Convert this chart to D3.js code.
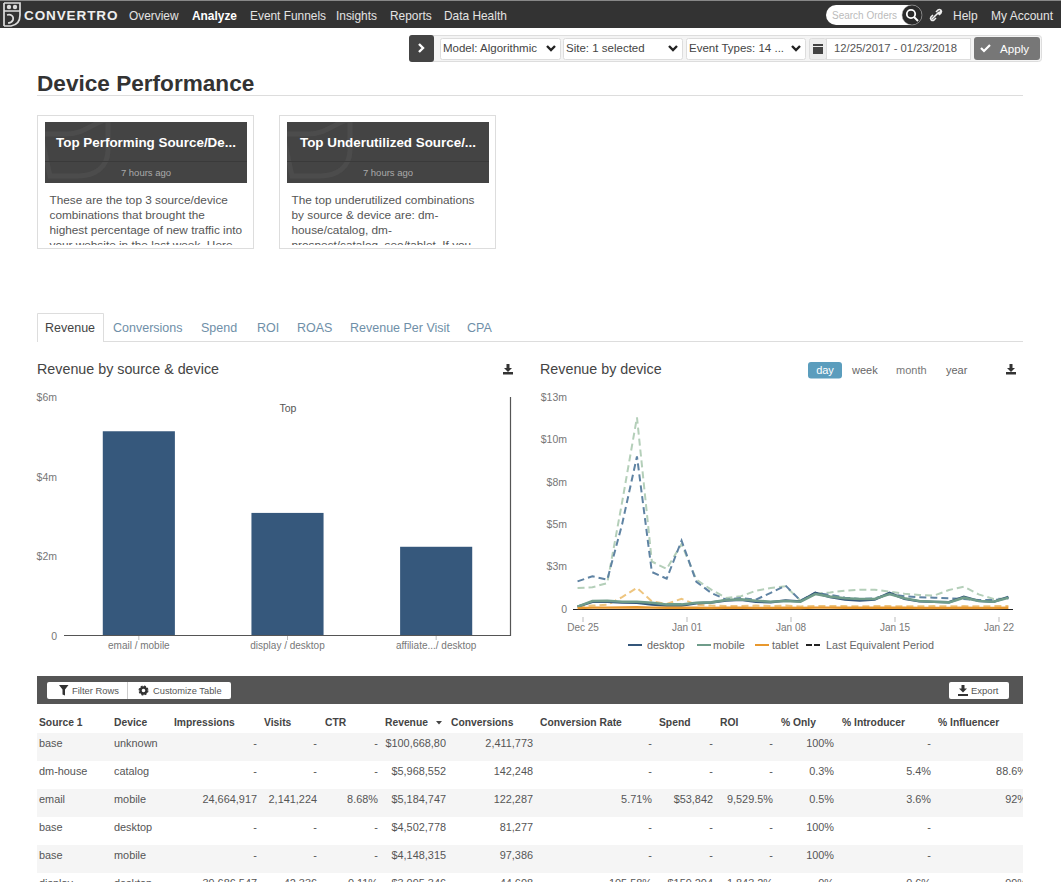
<!DOCTYPE html>
<html>
<head>
<meta charset="utf-8">
<script src="https://cdn.jsdelivr.net/npm/d3@7"></script>
<style>
  html, body { margin: 0; padding: 0; background: #fff; overflow: hidden; }
  svg { display: block; }
  text { font-family: "Liberation Sans", Arial, sans-serif; }
  .axis text { fill: #777; }
  .axis line { stroke: #bbb; }
</style>
</head>
<body>
<div id="page"></div>
<script>
// nav + tabs
var navItems = ["Overview", "Analyze", "Event Funnels", "Insights", "Reports", "Data Health"];
var navX = [129, 192, 250, 336, 390, 444];
var tabNames = ["Revenue", "Conversions", "Spend", "ROI", "ROAS", "Revenue Per Visit", "CPA"];
var tabX = [45, 113, 201, 257, 297, 350, 467];

// bar chart data
var barCategories = ["email / mobile", "display / desktop", "affiliate.../ desktop"];
var barValues = [5140000, 3090000, 2240000];
var barTicks = [0, 2000000, 4000000, 6000000];
var barTickLabels = ["0", "$2m", "$4m", "$6m"];

// line chart data, one value per day in $m, 12/25 - 01/23
var desktop = [0.14, 0.42, 0.42, 0.38, 0.36, 0.26, 0.2, 0.2, 0.34, 0.38, 0.5, 0.54, 0.42, 0.4, 0.5, 0.45, 0.95, 0.7, 0.55, 0.5, 0.55, 0.95, 0.6, 0.45, 0.42, 0.4, 0.72, 0.48, 0.42, 0.72];
var mobile = [0.14, 0.47, 0.49, 0.43, 0.43, 0.37, 0.27, 0.27, 0.37, 0.39, 0.53, 0.57, 0.49, 0.43, 0.47, 0.43, 0.88, 0.73, 0.63, 0.59, 0.59, 0.88, 0.63, 0.47, 0.43, 0.39, 0.67, 0.47, 0.43, 0.67];
var tablet = [0.05, 0.08, 0.08, 0.09, 0.1, 0.08, 0.07, 0.08, 0.07, 0.06, 0.07, 0.07, 0.06, 0.06, 0.07, 0.06, 0.08, 0.08, 0.07, 0.07, 0.07, 0.08, 0.07, 0.06, 0.06, 0.06, 0.07, 0.06, 0.06, 0.07];
var desktopPrev = [1.63, 1.93, 1.73, 5.0, 9.0, 2.18, 1.79, 4.03, 1.6, 0.95, 0.55, 0.65, 0.55, 0.95, 1.38, 0.5, 0.95, 0.83, 0.67, 0.59, 0.63, 0.88, 0.75, 0.69, 0.67, 0.63, 0.59, 0.53, 0.53, 0.63];
var mobilePrev = [1.24, 1.28, 1.53, 6.3, 11.3, 2.8, 2.36, 3.83, 1.73, 1.14, 0.65, 0.75, 1.08, 1.24, 1.34, 0.5, 0.92, 0.98, 1.08, 1.14, 1.14, 1.02, 0.9, 0.83, 0.79, 1.12, 1.32, 0.86, 0.59, 0.63];
var tabletPrev = [0.15, 0.2, 0.25, 0.7, 1.25, 0.45, 0.3, 0.6, 0.25, 0.2, 0.18, 0.18, 0.2, 0.17, 0.2, 0.15, 0.18, 0.17, 0.17, 0.16, 0.17, 0.17, 0.16, 0.16, 0.17, 0.16, 0.17, 0.16, 0.17, 0.18];
var lineTicks = [0, 2.5, 5, 7.5, 10, 12.5];
var lineTickLabels = ["0", "$3m", "$5m", "$8m", "$10m", "$13m"];
var xTickDates = ["2017-12-25", "2018-01-01", "2018-01-08", "2018-01-15", "2018-01-22"];
var legendNames = ["desktop", "mobile", "tablet", "Last Equivalent Period"];

// table data
var tableHeaders = ["Source 1", "Device", "Impressions", "Visits", "CTR", "Revenue", "Conversions", "Conversion Rate", "Spend", "ROI", "% Only", "% Introducer", "% Influencer"];
var sources = ["base", "dm-house", "email", "base", "base", "display"];
var devices = ["unknown", "catalog", "mobile", "desktop", "mobile", "desktop"];
var impressions = ["-", "-", "24,664,917", "-", "-", "39,686,547"];
var visits = ["-", "-", "2,141,224", "-", "-", "42,336"];
var ctr = ["-", "-", "8.68%", "-", "-", "0.11%"];
var revenue = ["$100,668,80", "$5,968,552", "$5,184,747", "$4,502,778", "$4,148,315", "$3,095,346"];
var conversions = ["2,411,773", "142,248", "122,287", "81,277", "97,386", "44,608"];
var convRate = ["-", "-", "5.71%", "-", "-", "105.58%"];
var spend = ["-", "-", "$53,842", "-", "-", "$159,204"];
var roi = ["-", "-", "9,529.5%", "-", "-", "1,843.2%"];
var pctOnly = ["100%", "0.3%", "0.5%", "100%", "100%", "0%"];
var pctIntroducer = ["-", "5.4%", "3.6%", "-", "-", "0.6%"];
var pctInfluencer = ["", "88.6%", "92%", "", "", "99%"];

var svgWidth = 1061;
var svgHeight = 883;

var svg = d3.select("#page")
  .append("svg")
  .attr("width", svgWidth)
  .attr("height", svgHeight);

var defs = svg.append("defs");

function addClip(id, x, y, w, h) {
  defs.append("clipPath").attr("id", id).append("rect")
    .attr("x", x).attr("y", y).attr("width", w).attr("height", h);
}
addClip("card1", 38, 116, 215, 129);
addClip("card2", 280, 116, 215, 129);
addClip("tableClip", 37, 705, 986, 177);
addClip("head1", 45, 122, 202, 61);
addClip("head2", 287, 122, 202, 61);

function label(parent, x, y, str, size, fill, opts) {
  opts = opts || {};
  return parent.append("text")
    .attr("x", x)
    .attr("y", y)
    .attr("font-size", size)
    .attr("fill", fill)
    .attr("font-weight", opts.weight || "normal")
    .attr("text-anchor", opts.anchor || "start")
    .text(str);
}

function box(parent, x, y, w, h, fill, stroke, r) {
  return parent.append("rect")
    .attr("x", x).attr("y", y).attr("width", w).attr("height", h)
    .attr("rx", r || 0)
    .attr("fill", fill)
    .attr("stroke", stroke || "none");
}

function downloadIcon(x, y, color) {
  svg.append("path")
    .attr("d", `M${x - 1.5},${y - 5}h3v4h2.5l-4,4l-4,-4h2.5z M${x - 5},${y + 3}h10v2.5h-10z`)
    .attr("fill", color);
}

function chevron(x, y) {
  svg.append("path")
    .attr("d", `M${x - 4},${y - 2}l4,4l4,-4`)
    .attr("fill", "none")
    .attr("stroke", "#222")
    .attr("stroke-width", 2.4);
}

// top nav
box(svg, 0, 0, svgWidth, 28, "#333");
box(svg, 0, 0, svgWidth, 1, "#888");
// owl logo
svg.append("path")
  .attr("d", "M4,3v23 M4,3h16v12c0,6 -3,10 -9,11h-7 M4,11h16")
  .attr("fill", "none")
  .attr("stroke", "#ddd")
  .attr("stroke-width", 1.7);
svg.append("circle").attr("cx", 9).attr("cy", 7).attr("r", 2.2).attr("fill", "#ddd");
svg.append("circle").attr("cx", 15).attr("cy", 7).attr("r", 2.2).attr("fill", "#ddd");
svg.append("path")
  .attr("d", "M7,15c4,-1 7,1 6,5c-1,2 -3,3 -5,3")
  .attr("fill", "none")
  .attr("stroke", "#ddd")
  .attr("stroke-width", 1.7);
label(svg, 24, 20, "CONVERTRO", 13.5, "#eee", { weight: "bold" }).attr("letter-spacing", 0.9);

svg.selectAll(".nav")
  .data(navItems)
  .enter()
  .append("text")
  .attr("class", "nav")
  .attr("x", (d, i) => navX[i])
  .attr("y", 20)
  .attr("font-size", 11.9)
  .attr("font-weight", d => d === "Analyze" ? "bold" : "normal")
  .attr("fill", d => d === "Analyze" ? "#fff" : "#e4e4e4")
  .text(d => d);

box(svg, 826, 5, 96, 20, "#fff", null, 10);
label(svg, 832, 19, "Search Orders", 10, "#bbb");
svg.append("circle").attr("cx", 912).attr("cy", 15).attr("r", 10).attr("fill", "#2b2b2b").attr("stroke", "#aaa").attr("stroke-width", 0.5);
svg.append("circle").attr("cx", 911).attr("cy", 14).attr("r", 4.2).attr("fill", "none").attr("stroke", "#fff").attr("stroke-width", 1.8);
svg.append("line").attr("x1", 914).attr("y1", 17).attr("x2", 918).attr("y2", 21).attr("stroke", "#fff").attr("stroke-width", 2);
svg.append("path")
  .attr("d", "M932,19l3,-3 M938,14l3,-3 M933,15l-2,2c-1.5,2 1,4.500 3,3l2,-2 M939,15l2,-2c1.500,-2 -1,-4.500 -3,-3l-2,2 M934,17l5,-5")
  .attr("fill", "none").attr("stroke", "#eee").attr("stroke-width", 1.6);
label(svg, 953, 20, "Help", 12, "#e4e4e4");
label(svg, 991, 20, "My Account", 12, "#e4e4e4");

// filter bar
box(svg, 409.5, 35.5, 632, 26, "#f4f4f4", "#ddd", 3);
box(svg, 409, 35, 25, 27, "#444", null, 3);
svg.append("path").attr("d", "M419,44l4,4l-4,4").attr("fill", "none").attr("stroke", "#fff").attr("stroke-width", 2.4);

var selects = [
  { x: 440, w: 121, t: "Model: Algorithmic" },
  { x: 563, w: 120, t: "Site: 1 selected" },
  { x: 686, w: 120, t: "Event Types: 14 ..." }
];
selects.forEach(function(s) {
  box(svg, s.x + 0.5, 38.5, s.w - 1, 21, "#fff", "#ddd", 2);
  label(svg, s.x + 3, 52, s.t, 11.5, "#444");
  chevron(s.x + s.w - 10, 48);
});
box(svg, 809.5, 38.5, 17, 21, "#eee", "#ddd", 2);
box(svg, 813, 44, 10, 10, "#444");
svg.append("line").attr("x1", 813).attr("x2", 823).attr("y1", 46.500).attr("y2", 46.500).attr("stroke", "#eee");
box(svg, 826.5, 38.5, 144, 21, "#fff", "#ddd");
label(svg, 834, 52, "12/25/2017 - 01/23/2018", 11.3, "#555");
box(svg, 974, 37, 66, 23, "#777", null, 3);
svg.append("path").attr("d", "M981,48l3,3l6,-6").attr("fill", "none").attr("stroke", "#fff").attr("stroke-width", 2.2);
label(svg, 1000, 53, "Apply", 11.6, "#fff");

// page title
label(svg, 37, 91, "Device Performance", 22.6, "#333", { weight: "bold" });
svg.append("line").attr("x1", 37).attr("x2", 1023).attr("y1", 95.5).attr("y2", 95.5).attr("stroke", "#ddd");

// insight cards
var cards = [
  { x: 37, w: 217, inner: 45, clip: "card1", head: "head1", title: "Top Performing Source/De...",
    lines: ["These are the top 3 source/device", "combinations that brought the", "highest percentage of new traffic into", "your website in the last week. Here"] },
  { x: 279, w: 217, inner: 287, clip: "card2", head: "head2", title: "Top Underutilized Source/...",
    lines: ["The top underutilized combinations", "by source & device are: dm-", "house/catalog, dm-", "prospect/catalog, seo/tablet. If you"] }
];
cards.forEach(function(c) {
  box(svg, c.x + 0.5, 115.5, c.w - 1, 133, "#fff", "#ddd");
  var ix = c.inner;
  box(svg, ix, 122, 202, 61, "#444");
  svg.append("path")
    .attr("d", `M${ix - 4},134h25c20,0 30,-14 42,-14v30c0,18 -14,26 -30,26h-28z`)
    .attr("fill", "none")
    .attr("stroke", "#4c4c4c")
    .attr("stroke-width", 5)
    .attr("clip-path", `url(#${c.head})`);
  svg.append("line").attr("x1", ix).attr("x2", ix + 202).attr("y1", 161.5).attr("y2", 161.5).attr("stroke", "#3a3a3a");
  label(svg, ix + 101, 147, c.title, 13.4, "#fff", { weight: "bold", anchor: "middle" });
  label(svg, ix + 101, 176, "7 hours ago", 9.5, "#aaa", { anchor: "middle" });
  var g = svg.append("g").attr("clip-path", `url(#${c.clip})`);
  c.lines.forEach(function(t, i) {
    label(g, c.x + 12.5, 204 + i * 15, t, 11.8, "#555");
  });
});

// tabs
svg.append("line").attr("x1", 37).attr("x2", 1023).attr("y1", 341.5).attr("y2", 341.5).attr("stroke", "#ddd");
svg.append("path").attr("d", "M37.500,342V313.500H103.500V342").attr("fill", "#fff").attr("stroke", "#ddd");
svg.selectAll(".tab")
  .data(tabNames)
  .enter()
  .append("text")
  .attr("class", "tab")
  .attr("x", (d, i) => tabX[i])
  .attr("y", 332)
  .attr("font-size", 12.5)
  .attr("fill", (d, i) => i === 0 ? "#444" : "#6f8fa8")
  .text(d => d);

// section titles
label(svg, 37, 374, "Revenue by source & device", 14.3, "#444");
label(svg, 540, 374, "Revenue by device", 14.3, "#444");
downloadIcon(508, 369, "#333");
downloadIcon(1011, 369, "#333");
box(svg, 808, 362, 34, 16.5, "#5b9dbd", null, 3);
label(svg, 825, 374, "day", 11, "#fff", { anchor: "middle" });
label(svg, 852, 374, "week", 11, "#666");
label(svg, 896, 374, "month", 11, "#777");
label(svg, 946, 374, "year", 11, "#666");

// bar chart
var barX = d3.scaleBand()
  .domain(barCategories)
  .range([64.5, 510.5])
  .paddingInner(0.515)
  .paddingOuter(0.2575);

var barY = d3.scaleLinear()
  .domain([0, 6000000])
  .range([636, 397]);

svg.selectAll(".bar")
  .data(barValues)
  .enter()
  .append("rect")
  .attr("class", "bar")
  .attr("x", (d, i) => barX(barCategories[i]))
  .attr("y", d => barY(d))
  .attr("width", barX.bandwidth())
  .attr("height", d => barY(0) - barY(d))
  .attr("fill", "#36587c");

var barLeft = svg.append("g")
  .attr("class", "axis")
  .attr("transform", "translate(64,0)")
  .call(d3.axisLeft(barY)
    .tickValues(barTicks)
    .tickSize(0)
    .tickPadding(7)
    .tickFormat((d, i) => barTickLabels[i]));
barLeft.select(".domain").remove();
barLeft.selectAll("text").attr("font-size", 10.5);

var barBottom = svg.append("g")
  .attr("class", "axis")
  .attr("transform", "translate(0,636)")
  .call(d3.axisBottom(barX).tickSize(4).tickSizeOuter(0).tickPadding(2));
barBottom.select(".domain").remove();
barBottom.selectAll("text").attr("font-size", 10).attr("fill", "#666");

svg.append("path").attr("d", "M64,635.500H510.500V397").attr("fill", "none").attr("stroke", "#555").attr("stroke-width", 1.2);
label(svg, 288, 412, "Top", 10.5, "#555", { anchor: "middle" });

// line chart
var parseDay = d3.utcParse("%Y-%m-%d");
var tickDates = xTickDates.map(parseDay);

// points sit 8 hours before the tick, same as the reference
var lineDates = d3.utcDay.range(new Date(Date.UTC(2017, 11, 24)), new Date(Date.UTC(2018, 0, 23)))
  .map(d => d3.utcHour.offset(d, 16));

var lineX = d3.scaleUtc()
  .domain([tickDates[0], tickDates[4]])
  .range([582.5, 998.5]);

var lineY = d3.scaleLinear()
  .domain([0, 12.5])
  .range([609, 397]);

var drawLine = d3.line()
  .x((d, i) => lineX(lineDates[i]))
  .y(d => lineY(d));

var lineSeries = [
  { values: tabletPrev, color: "#eec57f", width: 2, dash: "7,4" },
  { values: mobilePrev, color: "#b4cfb9", width: 2, dash: "7,4" },
  { values: desktopPrev, color: "#5f83a3", width: 2, dash: "7,4" },
  { values: desktop, color: "#34567a", width: 2.4, dash: null },
  { values: mobile, color: "#6f9c8a", width: 2.6, dash: null },
  { values: tablet, color: "#e8982e", width: 2.4, dash: null }
];

var yAxisLine = svg.append("g")
  .attr("class", "axis")
  .attr("transform", "translate(573,0)")
  .call(d3.axisLeft(lineY)
    .tickValues(lineTicks)
    .tickSize(0)
    .tickPadding(6)
    .tickFormat((d, i) => lineTickLabels[i]));
yAxisLine.select(".domain").remove();
yAxisLine.selectAll("text").attr("font-size", 10.5);

svg.append("line").attr("x1", 573).attr("x2", 1013).attr("y1", 609.5).attr("y2", 609.5).attr("stroke", "#222");

svg.selectAll(".series")
  .data(lineSeries)
  .enter()
  .append("path")
  .attr("class", "series")
  .attr("d", d => drawLine(d.values))
  .attr("fill", "none")
  .attr("stroke", d => d.color)
  .attr("stroke-width", d => d.width)
  .attr("stroke-dasharray", d => d.dash);

var xAxisLine = svg.append("g")
  .attr("class", "axis")
  .attr("transform", "translate(0,617)")
  .call(d3.axisBottom(lineX)
    .tickValues(tickDates)
    .tickSize(5)
    .tickPadding(2)
    .tickFormat(d3.utcFormat("%b %d")));
xAxisLine.select(".domain").remove();
xAxisLine.selectAll("text").attr("font-size", 10).attr("fill", "#666");

// legend
var legendSwatchX = [628, 697, 755, 806];
var legendTextX = [647, 713, 772, 826];
var legendColors = ["#34567a", "#6f9c8a", "#e8982e", "#222"];
legendNames.forEach(function(name, i) {
  svg.append("line")
    .attr("x1", legendSwatchX[i])
    .attr("x2", legendSwatchX[i] + 14)
    .attr("y1", 645)
    .attr("y2", 645)
    .attr("stroke", legendColors[i])
    .attr("stroke-width", 2)
    .attr("stroke-dasharray", i === 3 ? "6,2" : null);
  label(svg, legendTextX[i], 649, name, 10.8, "#666");
});

// table toolbar
box(svg, 37, 676, 986, 28, "#555");
box(svg, 47, 682, 184, 17, "#fff", null, 2);
svg.append("line").attr("x1", 127.5).attr("x2", 127.5).attr("y1", 682).attr("y2", 699).attr("stroke", "#ccc");
svg.append("path").attr("d", "M59,685h9.500l-3.500,4.500v6l-2.500,-1v-5z").attr("fill", "#333");
label(svg, 72, 694, "Filter Rows", 9.4, "#555");
svg.append("circle").attr("cx", 143.5).attr("cy", 690.5).attr("r", 3).attr("fill", "none").attr("stroke", "#333").attr("stroke-width", 2.4);
svg.append("circle").attr("cx", 143.5).attr("cy", 690.5).attr("r", 4.4).attr("fill", "none").attr("stroke", "#333").attr("stroke-width", 1.2).attr("stroke-dasharray", "2,1.450");
label(svg, 153, 694, "Customize Table", 9.3, "#555");
box(svg, 949, 682, 60, 17, "#fff", null, 2);
svg.append("path").attr("d", "M961.500,685h3v3.500h2.500l-4,4l-4,-4h2.500z M958,694h10v2h-10z").attr("fill", "#333");
label(svg, 971, 694, "Export", 9.5, "#555");

// table
var rowHeight = 28;
var tableColumns = [
  { values: sources, headX: 39, x: 39, anchor: "start" },
  { values: devices, headX: 114, x: 114, anchor: "start" },
  { values: impressions, headX: 174, x: 257, anchor: "end" },
  { values: visits, headX: 264, x: 317, anchor: "end" },
  { values: ctr, headX: 325, x: 378, anchor: "end" },
  { values: revenue, headX: 385, x: 446, anchor: "end" },
  { values: conversions, headX: 451, x: 533, anchor: "end" },
  { values: convRate, headX: 540, x: 652, anchor: "end" },
  { values: spend, headX: 659, x: 713, anchor: "end" },
  { values: roi, headX: 720, x: 773, anchor: "end" },
  { values: pctOnly, headX: 781, x: 834, anchor: "end" },
  { values: pctIntroducer, headX: 842, x: 931, anchor: "end" },
  { values: pctInfluencer, headX: 938, x: 1027, anchor: "end" }
];

svg.selectAll(".th")
  .data(tableHeaders)
  .enter()
  .append("text")
  .attr("class", "th")
  .attr("x", (d, i) => tableColumns[i].headX)
  .attr("y", 726)
  .attr("font-size", 10.3)
  .attr("font-weight", "bold")
  .attr("fill", "#444")
  .text(d => d);
svg.append("path").attr("d", "M436,721h6l-3,3.500z").attr("fill", "#444");

var tableGroup = svg.append("g").attr("clip-path", "url(#tableClip)");

tableGroup.selectAll(".stripe")
  .data(sources)
  .enter()
  .append("rect")
  .attr("class", "stripe")
  .attr("x", 37)
  .attr("y", (d, i) => 733 + i * rowHeight)
  .attr("width", 986)
  .attr("height", rowHeight)
  .attr("fill", (d, i) => i % 2 === 0 ? "#f5f5f5" : "#fff");

tableColumns.forEach(function(col) {
  tableGroup.append("g")
    .selectAll("text")
    .data(col.values)
    .enter()
    .append("text")
    .attr("x", col.x)
    .attr("y", (d, i) => 747 + i * rowHeight)
    .attr("font-size", 10.9)
    .attr("fill", "#555")
    .attr("text-anchor", col.anchor)
    .text(d => d);
});
</script>
</body>
</html>
